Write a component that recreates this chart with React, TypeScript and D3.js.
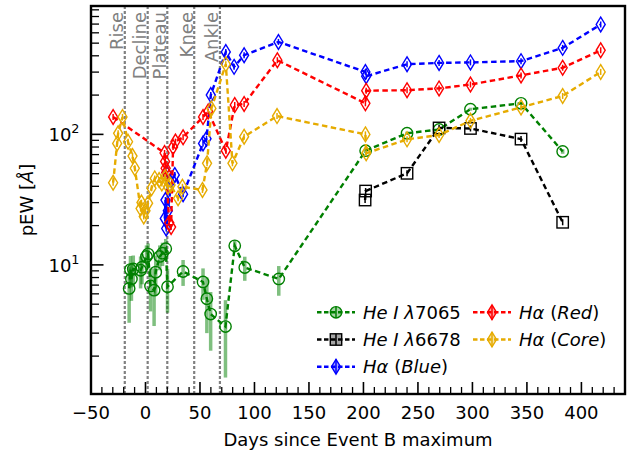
import React from "react";
import * as d3 from "d3";

// ---------- data ----------
const heI7065Days = [-15, -13.8, -12.9, -11.2, -4.5, -3.2, 0.9, 2.4, 4.6, 7.9, 9.4, 13.1, 15.6, 18.6, 20.2, 34.5, 52.8, 56.3, 59.8, 73.4, 81.9, 91.1, 122.3, 202, 240, 269.4, 298.2, 344.6, 382.8];
const heI7065Vals = [6.6, 9.2, 7.8, 9.3, 9.1, 9.6, 11.6, 12.1, 6.9, 6.4, 8.8, 11.6, 12.3, 13.3, 6.8, 8.9, 7.4, 5.5, 4.2, 3.37, 14.0, 9.55, 7.8, 75, 102, 109, 156, 173, 74];
const heI7065Err = [3, 2.5, 2.5, 2.5, 2.5, 2.5, 2.5, 2.5, 2.5, 3, 3, 2.5, 2.5, 2.5, 2.5, 2, 2, 2.5, 2, 2, 1.5, 2, 2, 3, 3, 3, 4, 4, 3];

const heI6678Days = [201.5, 202, 240, 269.4, 298.2, 344.6, 382.8];
const heI6678Vals = [31.4, 36.8, 50.3, 112, 111, 92, 21.2];

const haBlueDays = [17.7, 18.3, 19.0, 19.8, 20.5, 24, 26.9, 34.5, 52.8, 56, 59.9, 73.7, 81.3, 90.5, 122, 201.8, 202.5, 240, 269.4, 298.2, 344.6, 382.8, 417.7];
const haBlueVals = [22.7, 31.4, 19, 50, 26, 45, 48.9, 34.8, 85.3, 92.6, 200, 428, 329, 404, 511, 301, 279, 345, 353, 356, 364, 460, 695];

const haRedDays = [-29.7, 17.5, 18.0, 18.5, 19.0, 21.8, 23.5, 25.3, 27.5, 34.5, 52.8, 57.5, 73.7, 81.9, 90.5, 121, 201.8, 202.5, 240, 269.4, 298.2, 344.6, 382.8, 417.7];
const haRedVals = [136, 72, 62, 55, 51, 21, 19.5, 80, 88, 95, 136, 150, 75, 168, 171, 370, 173, 216, 218, 225, 241, 283, 324, 441];

const haCoreDays = [-29.7, -26, -25.1, -21.1, -16, -11.9, -9.8, -4.5, -3.7, -1.6, 0, 2.4, 5.5, 8.5, 12.5, 15, 18, 20.7, 23, 29.9, 33.9, 52.3, 56.5, 60.5, 73.7, 79.8, 90.5, 120.7, 201.8, 202.5, 240, 269.4, 298.2, 344.6, 382.8, 417.7];
const haCoreVals = [42.6, 85.3, 101.8, 136, 87.8, 68.2, 55, 27, 30, 23.5, 26, 29.7, 38.6, 46, 44.7, 42, 47, 39.7, 41, 32.4, 39.7, 37.5, 60, 158, 345, 60, 96, 138, 100, 71.6, 91.6, 98.8, 127, 161, 197, 301];

const phaseDays = [-19, 2, 20, 44.7, 68.3];
const phaseLabels = ["Rise", "Decline", "Plateau", "Knee", "Ankle"];

const xTickValues = [-50, 0, 50, 100, 150, 200, 250, 300, 350, 400];
const yTickValues = [10, 100];
const yTickExponents = ["1", "2"];

// ---------- style ----------
const FONT = "DejaVu Sans, sans-serif";
const FS = 18;
const GREEN = "#008000";
const BLACK = "#000000";
const BLUE = "#0000ff";
const RED = "#ff0000";
const GOLD = "#e6ab00";

const L = 91, R = 625, T = 6, B = 394;

type Shape = "circle" | "square" | "diamond";

function Marker({ shape, cx, cy, color, fill = "none", fillOpacity = 0 }: { shape: Shape; cx: number; cy: number; color: string; fill?: string; fillOpacity?: number }) {
  const sw = 1.4;
  if (shape === "circle") return <circle cx={cx} cy={cy} r={5.7} fill={fill} fillOpacity={fillOpacity} stroke={color} strokeWidth={sw} />;
  if (shape === "square") return <rect x={cx - 5.7} y={cy - 5.7} width={11.4} height={11.4} fill={fill} fillOpacity={fillOpacity} stroke={color} strokeWidth={sw} />;
  return <path d={`M${cx},${cy - 7.4}L${cx + 4.5},${cy}L${cx},${cy + 7.4}L${cx - 4.5},${cy}Z`} fill={fill} fillOpacity={fillOpacity} stroke={color} strokeWidth={sw} />;
}

export default function App() {
  const x = d3.scaleLinear().domain([-50, 440]).range([L, R]);
  const y = d3.scaleLog().domain([1.025, 963]).range([B, T]);

  const mkLine = (days: number[], vals: number[]) =>
    d3.line<number>().x((_, i) => x(days[i])).y((v) => y(v))(vals) || "";

  const xMinor = d3.range(-40, 441, 10).filter((v) => v % 50 !== 0);
  const yMinor: number[] = [];
  [1, 10, 100].forEach((dec) => {
    for (let k = 2; k <= 9; k++) {
      const v = k * dec;
      if (v > 1.025 && v < 963) yMinor.push(v);
    }
  });

  const series = [
    { days: haBlueDays, vals: haBlueVals, color: BLUE, shape: "diamond" as Shape },
    { days: haRedDays, vals: haRedVals, color: RED, shape: "diamond" as Shape },
    { days: haCoreDays, vals: haCoreVals, color: GOLD, shape: "diamond" as Shape },
  ];

  const dash = "5.5,3.5";
  const LW = 2.4;

  const legendItems = [
    { col: 0, row: 0, color: GREEN, shape: "circle" as Shape, label: [["He I λ", true], ["7065", false]] },
    { col: 0, row: 1, color: BLACK, shape: "square" as Shape, label: [["He I λ", true], ["6678", false]] },
    { col: 0, row: 2, color: BLUE, shape: "diamond" as Shape, label: [["Hα", true], [" (", false], ["Blue", true], [")", false]] },
    { col: 1, row: 0, color: RED, shape: "diamond" as Shape, label: [["Hα", true], [" (", false], ["Red", true], [")", false]] },
    { col: 1, row: 1, color: GOLD, shape: "diamond" as Shape, label: [["Hα", true], [" (", false], ["Core", true], [")", false]] },
  ];
  const legColX = [317, 473];
  const legRowY = [312.3, 339.5, 366.7];

  return (
    <svg width={635} height={453} style={{ position: "absolute", left: 0, top: 0, background: "#fff" }} fontFamily={FONT}>
      <rect x={0} y={0} width={635} height={453} fill="#fff" />
      <defs>
        <clipPath id="plotclip">
          <rect x={L} y={T} width={R - L} height={B - T} />
        </clipPath>
      </defs>

      {/* phase lines */}
      {phaseDays.map((d, i) => (
        <g key={"ph" + i}>
          <line x1={x(d)} x2={x(d)} y1={T} y2={B} stroke="#808080" strokeWidth={2.2} strokeDasharray="3,2" />
          <text transform={`translate(${x(d) - 1.5},${12}) rotate(-90)`} textAnchor="end" fontSize={FS} fill="#808080">
            {phaseLabels[i]}
          </text>
        </g>
      ))}

      <g clipPath="url(#plotclip)">
        {/* He I 7065 error bars */}
        {heI7065Days.map((d, i) => (
          <line key={"ge" + i} x1={x(d)} x2={x(d)} y1={y(heI7065Vals[i] + heI7065Err[i])} y2={y(Math.max(heI7065Vals[i] - heI7065Err[i], 1.03))} stroke={GREEN} strokeOpacity={0.5} strokeWidth={3.5} />
        ))}
        {/* He I 7065 */}
        <path d={mkLine(heI7065Days, heI7065Vals)} fill="none" stroke={GREEN} strokeWidth={LW} strokeDasharray={dash} />
        {heI7065Days.map((d, i) => (
          <Marker key={"g" + i} shape="circle" cx={x(d)} cy={y(heI7065Vals[i])} color={GREEN} />
        ))}
        {/* He I 6678 */}
        <path d={mkLine(heI6678Days, heI6678Vals)} fill="none" stroke={BLACK} strokeWidth={LW} strokeDasharray={dash} />
        {heI6678Days.map((d, i) => (
          <g key={"k" + i}>
            <line x1={x(d)} x2={x(d)} y1={y(heI6678Vals[i]) - 3} y2={y(heI6678Vals[i]) + 3} stroke={BLACK} strokeWidth={1.5} />
            <Marker shape="square" cx={x(d)} cy={y(heI6678Vals[i])} color={BLACK} />
          </g>
        ))}
        {series.map((s, si) => (
          <g key={"s" + si}>
            <path d={mkLine(s.days, s.vals)} fill="none" stroke={s.color} strokeWidth={LW} strokeDasharray={dash} />
            {s.days.map((d, i) => (
              <g key={i}>
                <line x1={x(d)} x2={x(d)} y1={y(s.vals[i]) - 3} y2={y(s.vals[i]) + 3} stroke={s.color} strokeWidth={1.5} />
                <Marker shape={s.shape} cx={x(d)} cy={y(s.vals[i])} color={s.color} />
              </g>
            ))}
          </g>
        ))}
      </g>

      {/* axes ticks */}
      {xTickValues.map((v) => (
        <g key={"xt" + v}>
          <line x1={x(v)} x2={x(v)} y1={B} y2={B - 12} stroke="#000" strokeWidth={1.6} />
          <text x={x(v)} y={418.5} textAnchor="middle" fontSize={FS} fill="#000">
            {v < 0 ? "\u2212" + Math.abs(v) : String(v)}
          </text>
        </g>
      ))}
      {xMinor.map((v) => (
        <line key={"xm" + v} x1={x(v)} x2={x(v)} y1={B} y2={B - 7} stroke="#000" strokeWidth={1.3} />
      ))}
      {yTickValues.map((v, i) => (
        <g key={"yt" + v}>
          <line x1={L} x2={L + 12.5} y1={y(v)} y2={y(v)} stroke="#000" strokeWidth={1.6} />
          <text x={79.5} y={y(v) + 7} textAnchor="end" fontSize={FS} fill="#000">
            10<tspan dy={-8} fontSize={12.8}>{yTickExponents[i]}</tspan>
          </text>
        </g>
      ))}
      {yMinor.map((v) => (
        <line key={"ym" + v} x1={L} x2={L + 8} y1={y(v)} y2={y(v)} stroke="#000" strokeWidth={1.3} />
      ))}

      {/* frame */}
      <rect x={L} y={T} width={R - L} height={B - T} fill="none" stroke="#000" strokeWidth={2.4} />

      {/* axis labels */}
      <text x={(L + R) / 2} y={445.5} textAnchor="middle" fontSize={FS} fill="#000">
        Days since Event B maximum
      </text>
      <text transform={`translate(33,${(T + B) / 2}) rotate(-90)`} textAnchor="middle" fontSize={FS} fill="#000">
        pEW [<tspan fontStyle="italic">Å</tspan>]
      </text>

      {/* legend */}
      {legendItems.map((it, i) => {
        const x0 = legColX[it.col];
        const cy = legRowY[it.row];
        const cx = x0 + 19;
        return (
          <g key={"lg" + i}>
            <line x1={x0} x2={x0 + 38} y1={cy} y2={cy} stroke={it.color} strokeWidth={LW} strokeDasharray="4.5,2.5" />
            <line x1={cx} x2={cx} y1={cy - (it.shape === "diamond" ? 7.4 : 5.7)} y2={cy + (it.shape === "diamond" ? 7.4 : 5.7)} stroke={it.color} strokeWidth={1.5} />
            <Marker shape={it.shape} cx={cx} cy={cy} color={it.color} fill={it.color} fillOpacity={0.35} />
            <text x={x0 + 46} y={cy + 6.5} fontSize={FS} fill="#000">
              {it.label.map((p, j) => (
                <tspan key={j} fontStyle={p[1] ? "italic" : "normal"}>{p[0] as string}</tspan>
              ))}
            </text>
          </g>
        );
      })}
    </svg>
  );
}
